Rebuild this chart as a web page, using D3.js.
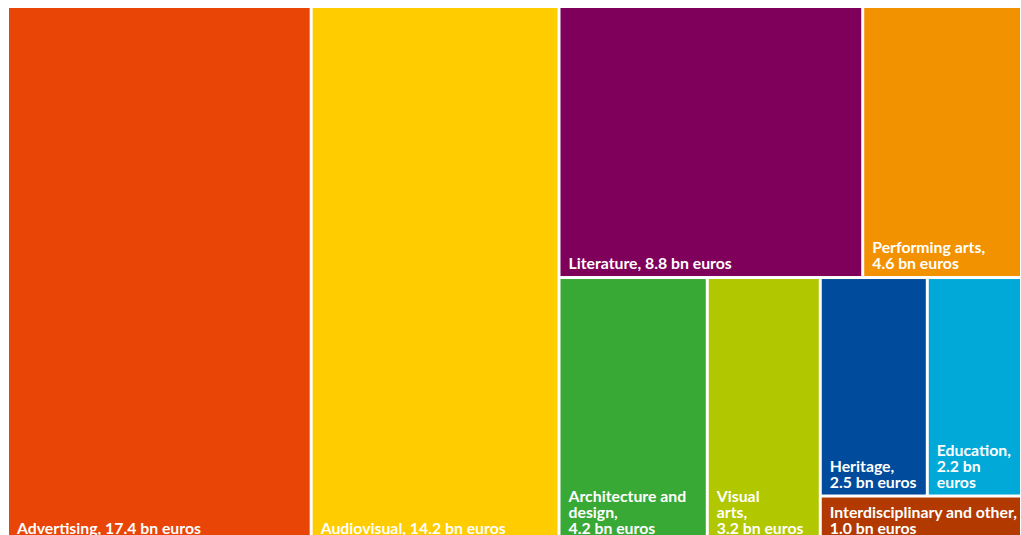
<!DOCTYPE html>
<html>
<head>
<meta charset="utf-8">
<script src="https://cdn.jsdelivr.net/npm/d3@7"></script>
<style>
  html, body { margin: 0; padding: 0; background: #fff; }
  svg { display: block; }
  .label { font-family: Lato, "Open Sans", sans-serif; font-weight: 700; fill: #fff; }
</style>
</head>
<body>
<svg id="chart"></svg>
<script>
// Cultural sector revenue by segment, in billions of euros
const categories = [
  "Advertising", "Audiovisual", "Literature", "Performing arts",
  "Architecture and design", "Visual arts", "Heritage", "Education",
  "Interdisciplinary and other"
];
const values = [17.4, 14.2, 8.8, 4.6, 4.2, 3.2, 2.5, 2.2, 1.0];
const colors = [
  "#E84507", "#FFCC00", "#7F005B", "#F39200",
  "#39A935", "#B1C800", "#004B9B", "#00A9D8", "#B23A00"
];
// Nesting of the blocks (groups alternate between side-by-side and stacked)
const groupPaths = [
  [], [], ["rest", "upper"], ["rest", "upper"],
  ["rest", "lower"], ["rest", "lower"],
  ["rest", "lower", "small", "pair"], ["rest", "lower", "small", "pair"],
  ["rest", "lower", "small"]
];
// Label lines; {v} is replaced by the segment value
const labelLines = [
  ["Advertising, {v} bn euros"],
  ["Audiovisual, {v} bn euros"],
  ["Literature, {v} bn euros"],
  ["Performing arts,", "{v} bn euros"],
  ["Architecture and", "design,", "{v} bn euros"],
  ["Visual", "arts,", "{v} bn euros"],
  ["Heritage,", "{v} bn euros"],
  ["Education,", "{v} bn", "euros"],
  ["Interdisciplinary and other,", "{v} bn euros"]
];

const width = 1021, height = 535;
const margin = { left: 9, top: 8 };
const treeW = 1011, treeH = 533;

const svg = d3.select("#chart").attr("width", width).attr("height", height);

// Build the nested tree from the group paths
const rootData = { name: "root", children: [] };
categories.forEach((name, i) => {
  let node = rootData;
  groupPaths[i].forEach(g => {
    let child = node.children.find(c => c.name === g && c.children);
    if (!child) { child = { name: g, children: [] }; node.children.push(child); }
    node = child;
  });
  node.children.push({ name, value: values[i], index: i });
});

const root = d3.hierarchy(rootData).sum(d => d.value || 0);

d3.treemap()
  .tile(d3.treemapSliceDice)
  .size([treeW, treeH])
  .paddingInner(3)
  .round(false)(root);

const fmt = d3.format(".1f");
const g = svg.append("g").attr("transform", `translate(${margin.left},${margin.top})`);

const leaf = g.selectAll("g.cell")
  .data(root.leaves())
  .join("g")
  .attr("class", "cell");

leaf.append("rect")
  .attr("x", d => d.x0)
  .attr("y", d => d.y0)
  .attr("width", d => d.x1 - d.x0)
  .attr("height", d => d.y1 - d.y0)
  .attr("fill", d => colors[d.data.index]);

const lineH = 16;
leaf.append("text")
  .attr("class", "label")
  .attr("font-size", 15.8)
  .each(function (d) {
    const lines = labelLines[d.data.index].map(s => s.replace("{v}", fmt(d.data.value)));
    const n = lines.length;
    d3.select(this).selectAll("tspan")
      .data(lines)
      .join("tspan")
      .attr("x", d.x0 + 8)
      .attr("y", (s, k) => d.y1 - 7 - (n - 1 - k) * lineH)
      .text(s => s);
  });
</script>
</body>
</html>
